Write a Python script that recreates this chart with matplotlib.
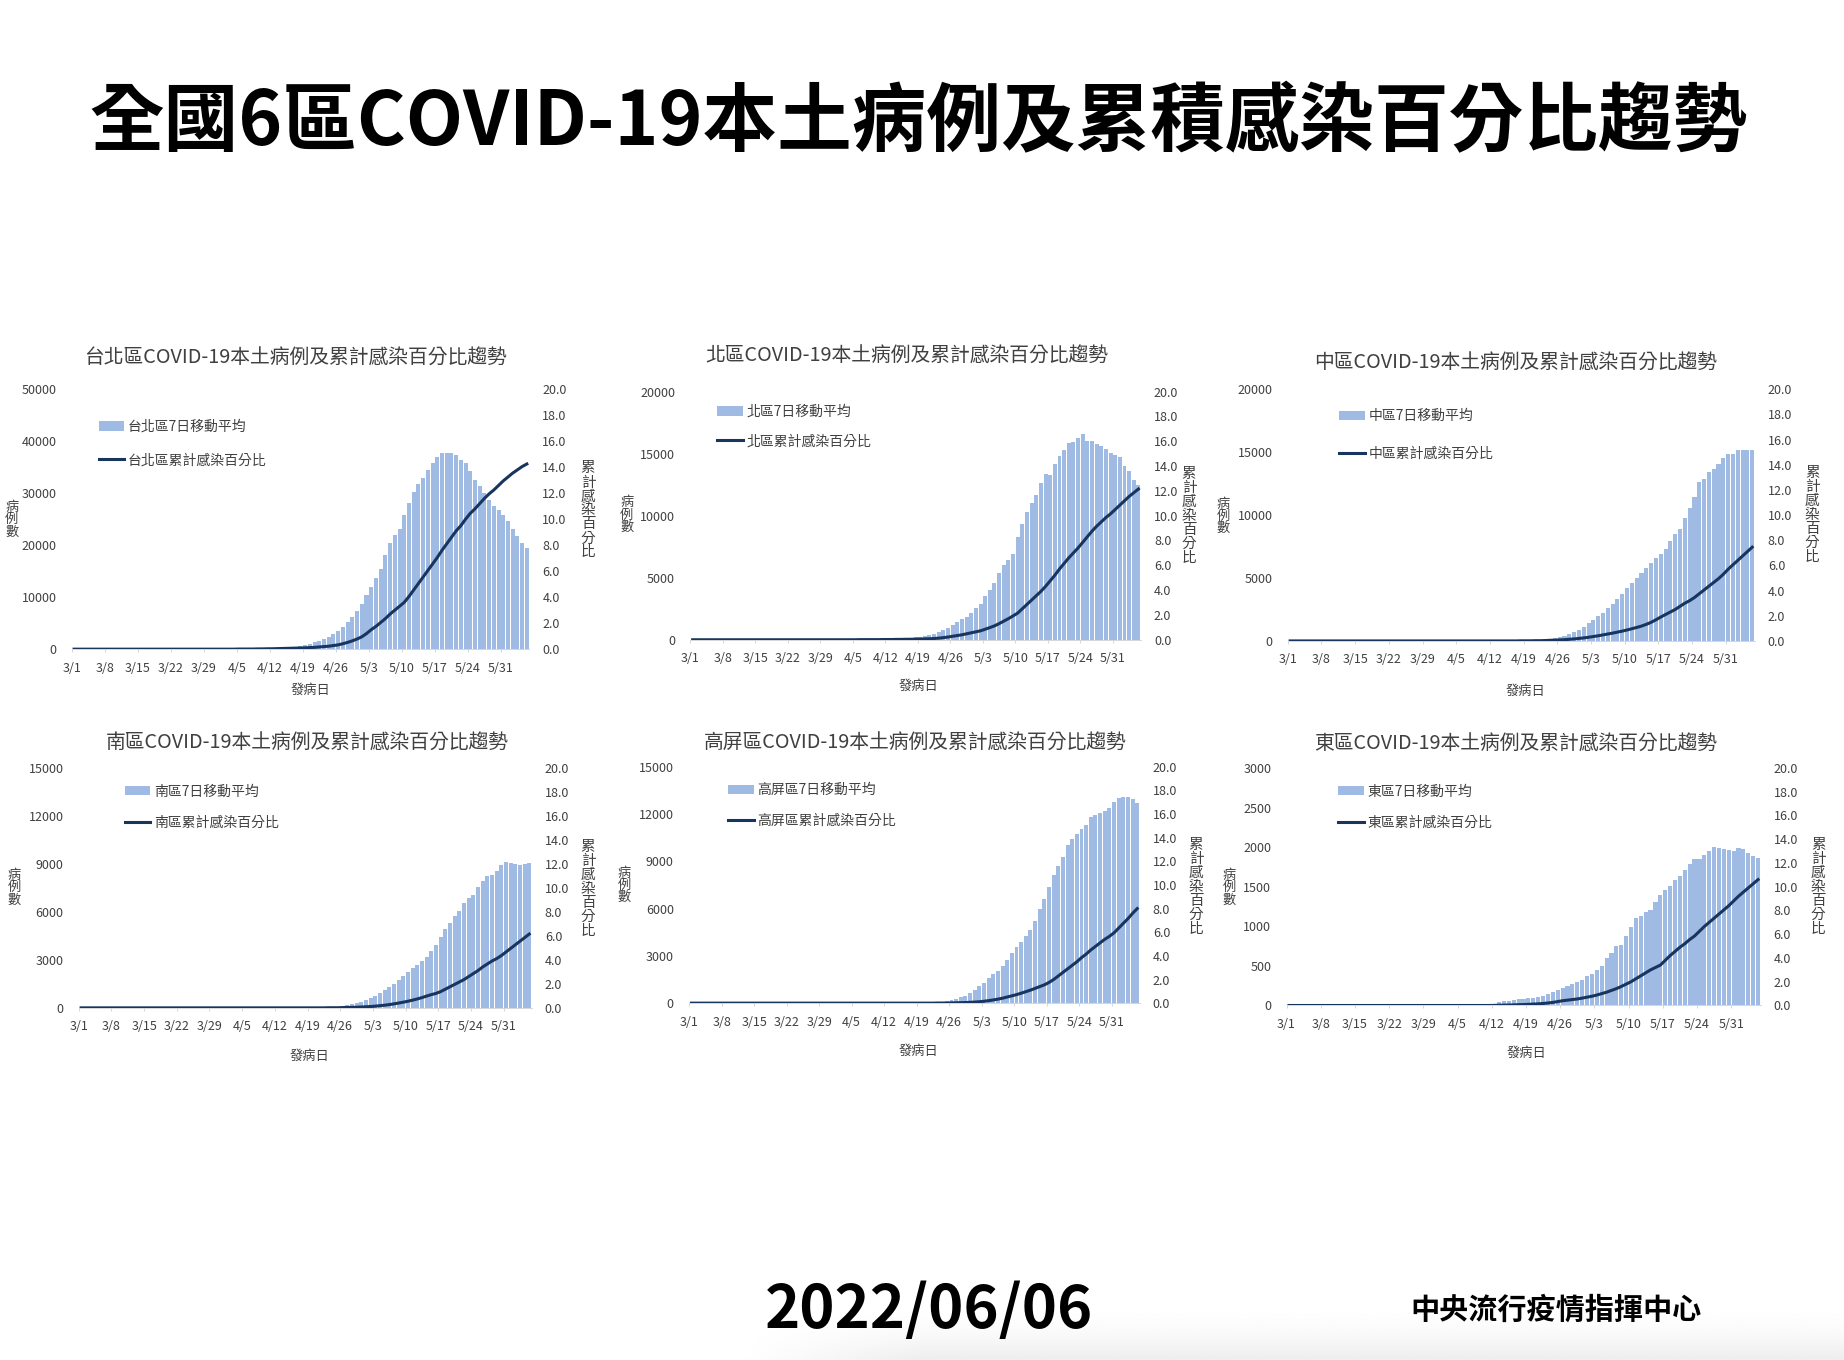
import numpy as np
import matplotlib
matplotlib.use("Agg")
import matplotlib.pyplot as plt

plt.rcParams['font.family'] = ['Noto Sans CJK TC', 'DejaVu Sans']

W, H = 1844, 1360
S = 1844 / 1568  # layout numbers below were measured on a 1568 wide copy

tick_labels = ["3/1", "3/8", "3/15", "3/22", "3/29", "4/5", "4/12", "4/19",
               "4/26", "5/3", "5/10", "5/17", "5/24", "5/31"]
regions = ["台北區", "北區", "中區", "南區", "高屏區", "東區"]

# daily values, one row per week from 3/1, last row ends 6/5
taipei_cases = [
  0, 0, 0, 0, 0, 0, 0,
  0, 0, 0, 0, 0, 0, 0,
  1, 1, 1, 1, 1, 1, 1,
  2, 2, 2, 2, 3, 3, 3,
  4, 4, 5, 5, 6, 7, 8,
  10, 13, 17, 22, 30, 45, 65,
  95, 125, 170, 230, 310, 420, 560,
  750, 1000, 1300, 1650, 2000, 2400, 2900,
  3500, 4300, 5250, 6200, 7400, 8650, 10400,
  12000, 13650, 15500, 18100, 20500, 22000, 23100,
  25800, 28200, 30300, 31700, 33000, 34500, 35800,
  36900, 37700, 37700, 37800, 37400, 36400, 35800,
  34200, 32600, 31400, 30000, 28700, 27600, 26800,
  25800, 24700, 23100, 21800, 20400, 19400]
taipei_pct = [
  0, 0, 0, 0, 0, 0, 0,
  0, 0, 0, 0, 0, 0, 0,
  0, 0, 0, 0, 0, 0, 0,
  0, 0, 0, 0, 0, 0, 0,
  0, 0, 0, 0, 0, 0, 0,
  0.01, 0.01, 0.01, 0.01, 0.02, 0.02, 0.03,
  0.03, 0.04, 0.05, 0.06, 0.07, 0.08, 0.09,
  0.1, 0.12, 0.14, 0.17, 0.2, 0.23, 0.28,
  0.33, 0.42, 0.52, 0.64, 0.78, 0.95, 1.2,
  1.5, 1.75, 2.05, 2.35, 2.7, 3.0, 3.3,
  3.6, 4.05, 4.55, 5.05, 5.55, 6.05, 6.55,
  7.05, 7.6, 8.1, 8.6, 9.1, 9.5, 10.0,
  10.45, 10.8, 11.2, 11.6, 11.95, 12.25, 12.6,
  12.95, 13.25, 13.55, 13.8, 14.05, 14.25]

north_cases = [
  0, 0, 0, 0, 0, 0, 0,
  0, 0, 0, 0, 0, 0, 0,
  0, 0, 0, 0, 1, 1, 1,
  1, 1, 2, 2, 2, 2, 3,
  3, 4, 5, 6, 8, 10, 12,
  15, 20, 25, 30, 35, 40, 45,
  50, 55, 65, 80, 110, 150, 200,
  260, 300, 370, 470, 600, 750, 950,
  1150, 1400, 1650, 1800, 2150, 2550, 2900,
  3500, 4000, 4550, 5400, 6000, 6400, 6950,
  8300, 9350, 10300, 11000, 11700, 12600, 13400,
  13300, 14150, 14850, 15300, 15850, 15900, 16300,
  16600, 16000, 16000, 15800, 15600, 15400, 15050,
  14900, 14700, 14000, 13600, 12900, 12500]
north_pct = [
  0, 0, 0, 0, 0, 0, 0,
  0, 0, 0, 0, 0, 0, 0,
  0, 0, 0, 0, 0, 0, 0,
  0, 0, 0, 0, 0, 0, 0,
  0, 0, 0, 0, 0, 0, 0,
  0, 0.01, 0.01, 0.01, 0.01, 0.01, 0.02,
  0.02, 0.02, 0.03, 0.03, 0.04, 0.04, 0.05,
  0.06, 0.07, 0.08, 0.1, 0.13, 0.17, 0.22,
  0.28, 0.34, 0.4, 0.48, 0.56, 0.64, 0.72,
  0.85, 0.98, 1.12, 1.3, 1.5, 1.7, 1.92,
  2.15, 2.5, 2.85, 3.2, 3.55, 3.9, 4.3,
  4.75, 5.2, 5.7, 6.15, 6.6, 7.0, 7.4,
  7.85, 8.3, 8.75, 9.15, 9.5, 9.85, 10.15,
  10.5, 10.85, 11.2, 11.55, 11.85, 12.15]

central_cases = [
  0, 0, 0, 0, 0, 0, 0,
  0, 0, 0, 0, 0, 0, 0,
  0, 0, 0, 0, 0, 0, 0,
  1, 1, 1, 1, 1, 1, 1,
  2, 2, 2, 2, 3, 3, 3,
  4, 4, 5, 5, 6, 6, 7,
  8, 10, 12, 15, 18, 22, 28,
  35, 45, 60, 80, 110, 150, 210,
  290, 420, 560, 690, 870, 1140, 1400,
  1670, 1990, 2250, 2600, 2940, 3310, 3700,
  4180, 4580, 4980, 5370, 5770, 6170, 6570,
  6900, 7280, 7970, 8480, 8870, 9750, 10600,
  11450, 12650, 12900, 13400, 13700, 14100, 14500,
  14850, 14850, 15200, 15200, 15200, 15200]
central_pct = [
  0, 0, 0, 0, 0, 0, 0,
  0, 0, 0, 0, 0, 0, 0,
  0, 0, 0, 0, 0, 0, 0,
  0, 0, 0, 0, 0, 0, 0,
  0, 0, 0, 0, 0, 0, 0,
  0, 0, 0, 0, 0, 0, 0,
  0, 0, 0, 0, 0, 0, 0.01,
  0.01, 0.01, 0.02, 0.02, 0.03, 0.05, 0.06,
  0.08, 0.1, 0.13, 0.16, 0.2, 0.24, 0.29,
  0.35, 0.41, 0.48, 0.55, 0.62, 0.7, 0.78,
  0.87, 0.97, 1.07, 1.18, 1.32, 1.48, 1.68,
  1.9, 2.1, 2.3, 2.5, 2.75, 3.0, 3.2,
  3.45, 3.75, 4.05, 4.35, 4.65, 4.95, 5.3,
  5.7, 6.05, 6.4, 6.75, 7.1, 7.45]

south_cases = [
  0, 0, 0, 0, 0, 0, 0,
  0, 0, 0, 0, 0, 0, 0,
  0, 0, 0, 0, 0, 0, 0,
  0, 0, 0, 0, 0, 0, 0,
  0, 0, 1, 1, 1, 1, 1,
  1, 1, 1, 2, 2, 2, 2,
  3, 3, 4, 4, 5, 6, 7,
  8, 10, 15, 25, 40, 55, 80,
  105, 150, 210, 290, 350, 460, 600,
  750, 920, 1125, 1290, 1500, 1750, 1980,
  2230, 2500, 2710, 2960, 3210, 3540, 3960,
  4460, 4900, 5310, 5730, 6040, 6540, 6850,
  7080, 7580, 7960, 8270, 8310, 8580, 8940,
  9150, 9040, 9000, 8960, 9020, 9040]
south_pct = [
  0, 0, 0, 0, 0, 0, 0,
  0, 0, 0, 0, 0, 0, 0,
  0, 0, 0, 0, 0, 0, 0,
  0, 0, 0, 0, 0, 0, 0,
  0, 0, 0, 0, 0, 0, 0,
  0, 0, 0, 0, 0, 0, 0,
  0, 0, 0, 0, 0, 0, 0,
  0, 0, 0, 0, 0.01, 0.01, 0.01,
  0.02, 0.03, 0.04, 0.05, 0.07, 0.09, 0.11,
  0.14, 0.18, 0.22, 0.27, 0.33, 0.4, 0.47,
  0.55, 0.64, 0.74, 0.85, 0.98, 1.1, 1.2,
  1.35, 1.55, 1.75, 1.95, 2.15, 2.35, 2.6,
  2.85, 3.1, 3.4, 3.65, 3.9, 4.1, 4.35,
  4.65, 4.95, 5.25, 5.55, 5.85, 6.15]

kaoping_cases = [
  0, 0, 0, 0, 0, 0, 0,
  0, 0, 0, 0, 0, 0, 0,
  0, 0, 0, 0, 0, 0, 0,
  0, 0, 0, 0, 0, 0, 0,
  0, 0, 0, 1, 1, 1, 1,
  1, 1, 1, 2, 2, 2, 2,
  3, 3, 4, 4, 5, 6, 8,
  10, 15, 25, 35, 50, 70, 105,
  170, 255, 360, 465, 635, 845, 1060,
  1270, 1585, 1860, 2070, 2370, 2750, 3170,
  3550, 3870, 4230, 4610, 5240, 5960, 6600,
  7400, 8120, 8710, 9260, 10040, 10440, 10720,
  11030, 11300, 11800, 11940, 12050, 12200, 12400,
  12770, 13000, 13100, 13060, 12940, 12680]
kaoping_pct = [
  0, 0, 0, 0, 0, 0, 0,
  0, 0, 0, 0, 0, 0, 0,
  0, 0, 0, 0, 0, 0, 0,
  0, 0, 0, 0, 0, 0, 0,
  0, 0, 0, 0, 0, 0, 0,
  0, 0, 0, 0, 0, 0, 0,
  0, 0, 0, 0, 0, 0, 0,
  0, 0, 0, 0, 0.01, 0.01, 0.01,
  0.02, 0.03, 0.04, 0.05, 0.07, 0.09, 0.12,
  0.16, 0.21, 0.27, 0.34, 0.42, 0.52, 0.62,
  0.72, 0.84, 0.97, 1.1, 1.25, 1.4, 1.55,
  1.75, 2.0, 2.3, 2.6, 2.9, 3.2, 3.5,
  3.85, 4.15, 4.5, 4.8, 5.1, 5.4, 5.65,
  5.95, 6.35, 6.75, 7.15, 7.6, 8.0]

east_cases = [
  0, 0, 0, 0, 0, 0, 0,
  0, 0, 0, 0, 0, 0, 0,
  0, 0, 0, 0, 0, 0, 0,
  0, 0, 0, 0, 0, 0, 0,
  0, 0, 0, 0, 1, 1, 1,
  2, 2, 3, 4, 6, 8, 12,
  21, 38, 55, 63, 72, 80, 88,
  93, 97, 105, 122, 139, 169, 198,
  223, 249, 274, 295, 324, 371, 400,
  451, 493, 598, 666, 746, 767, 877,
  990, 1108, 1125, 1180, 1201, 1311, 1391,
  1454, 1509, 1580, 1635, 1715, 1783, 1854,
  1854, 1905, 1947, 2002, 1989, 1972, 1960,
  1951, 1985, 1972, 1926, 1884, 1862]
east_pct = [
  0, 0, 0, 0, 0, 0, 0,
  0, 0, 0, 0, 0, 0, 0,
  0, 0, 0, 0, 0, 0, 0,
  0, 0, 0, 0, 0, 0, 0,
  0, 0, 0, 0, 0, 0, 0,
  0, 0, 0, 0, 0, 0, 0,
  0.01, 0.02, 0.03, 0.04, 0.05, 0.07, 0.08,
  0.1, 0.12, 0.14, 0.17, 0.21, 0.26, 0.33,
  0.4, 0.45, 0.5, 0.55, 0.62, 0.7, 0.78,
  0.88, 1.0, 1.12, 1.27, 1.42, 1.6, 1.8,
  2.0, 2.25, 2.5, 2.75, 3.0, 3.2, 3.4,
  3.8, 4.2, 4.55, 4.9, 5.2, 5.55, 5.85,
  6.25, 6.65, 7.0, 7.35, 7.7, 8.05, 8.4,
  8.8, 9.2, 9.55, 9.9, 10.25, 10.6]

all_cases = [taipei_cases, north_cases, central_cases, south_cases, kaoping_cases, east_cases]
all_pct = [taipei_pct, north_pct, central_pct, south_pct, kaoping_pct, east_pct]
left_ticks = [[0, 10000, 20000, 30000, 40000, 50000],
              [0, 5000, 10000, 15000, 20000],
              [0, 5000, 10000, 15000, 20000],
              [0, 3000, 6000, 9000, 12000, 15000],
              [0, 3000, 6000, 9000, 12000, 15000],
              [0, 500, 1000, 1500, 2000, 2500, 3000]]
right_ticks = [0, 2, 4, 6, 8, 10, 12, 14, 16, 18, 20]

# plot box: x left, x right, y zero, y top
boxes = [(61, 450, 552, 331), (587, 970, 544, 333), (1095, 1492, 545, 331),
         (67, 452, 857, 653), (586, 969, 853, 652), (1094, 1497, 855, 653)]
title_pos = [(251, 305), (771, 303), (1289, 309), (261, 632), (778, 632), (1289, 633)]
xlabel_pos = [(264, 587), (781, 584), (1297, 588), (263, 898), (781, 894), (1298, 896)]
ylabel_pos = [(10, 442), (533, 438), (1040, 439), (12, 755), (531, 753), (1045, 755)]
rlabel_pos = [(500, 434), (1011, 439), (1541, 438), (500, 756), (1017, 754), (1546, 754)]
# legend: handle left, first row y, second row y
legend_pos = [(84, 364, 392), (610, 351, 376), (1139, 355, 387),
              (106, 674, 700), (619, 673, 699), (1138, 674, 700)]

BAR = '#9FBAE3'
LINE = '#17355F'
GREY = '#404040'


def fx(x):
  return x * S / W


def fy(y):
  return 1 - y * S / H


fig = plt.figure(figsize=(W / 100, H / 100), dpi=100, facecolor='white')

# soft shadow at the bottom right of the slide
shade = fig.add_axes([0.4, 0, 0.6, 0.045], zorder=0)
ramp_x = np.clip(np.linspace(0, 6, 200), 0, 1)
ramp_y = np.linspace(0, 1, 40) ** 2
shade.imshow(1 - 0.07 * np.outer(ramp_y, ramp_x), cmap='gray', vmin=0, vmax=1, aspect='auto')
shade.axis('off')

fig.text(fx(781), fy(105), "全國6區COVID-19本土病例及累積感染百分比趨勢", fontsize=53.7,
         fontweight='bold', color='black', ha='center', va='center')
fig.text(fx(790), fy(1115), "2022/06/06", fontsize=43, fontweight='bold',
         color='black', ha='center', va='center')
fig.text(fx(1323), fy(1114), "中央流行疫情指揮中心", fontsize=21, fontweight='bold',
         color='black', ha='center', va='center')

for i in range(6):
  x0, x1, y0, y1 = boxes[i]
  ax = fig.add_axes([fx(x0), fy(y0), fx(x1) - fx(x0), fy(y1) - fy(y0)], zorder=2)
  ax.patch.set_alpha(0)
  days = np.arange(len(all_cases[i]))
  bars = ax.bar(days, all_cases[i], width=0.85, color=BAR, label=regions[i] + "7日移動平均")
  ax.set_xlim(-0.5, 96.5)
  ax.set_ylim(0, left_ticks[i][-1])
  ax.set_yticks(left_ticks[i])
  ax.set_xticks(np.arange(0, 92, 7) - 0.5)
  ax.set_xticklabels(tick_labels)
  ax.tick_params(axis='y', length=0, pad=11, labelsize=9, labelcolor=GREY)
  ax.tick_params(axis='x', length=2, width=0.6, color='#D0D0D0', pad=7, labelsize=9, labelcolor=GREY)
  for side in ['top', 'left', 'right']:
    ax.spines[side].set_visible(False)
  ax.spines['bottom'].set_color('#D0D0D0')
  ax.spines['bottom'].set_linewidth(0.6)

  ax2 = ax.twinx()
  ax2.patch.set_alpha(0)
  line, = ax2.plot(days, all_pct[i], color=LINE, lw=2.2, label=regions[i] + "累計感染百分比")
  ax2.set_ylim(0, 20)
  ax2.set_yticks(right_ticks)
  ax2.set_yticklabels(["%.1f" % t for t in right_ticks])
  ax2.tick_params(axis='y', length=0, pad=9.5, labelsize=9, labelcolor=GREY)
  for side in ['top', 'left', 'right', 'bottom']:
    ax2.spines[side].set_visible(False)

  fig.text(fx(title_pos[i][0]), fy(title_pos[i][1]), regions[i] + "COVID-19本土病例及累計感染百分比趨勢",
           fontsize=14.25, color=GREY, ha='center', va='center')
  fig.text(fx(xlabel_pos[i][0]), fy(xlabel_pos[i][1]), "發病日", fontsize=9.5,
           color=GREY, ha='center', va='center')
  fig.text(fx(ylabel_pos[i][0]), fy(ylabel_pos[i][1]), "病\n例\n數", fontsize=9.5,
           color=GREY, ha='center', va='center', linespacing=0.92)
  fig.text(fx(rlabel_pos[i][0]), fy(rlabel_pos[i][1]), "累\n計\n感\n染\n百\n分\n比", fontsize=10.5,
           color=GREY, ha='center', va='center', linespacing=1.0)

  lx, ly1, ly2 = legend_pos[i]
  gap = (ly2 - ly1) * S * 72 / 100 / 10  # row distance in font sizes
  ax2.legend([bars, line], [bars.get_label(), line.get_label()], loc='upper left',
             bbox_to_anchor=(fx(lx), fy(ly1 - 7)), bbox_transform=fig.transFigure,
             frameon=False, fontsize=10, labelcolor=GREY, borderpad=0, borderaxespad=0,
             handlelength=1.85, handletextpad=0.25, labelspacing=gap - 0.98)

fig.savefig("out.png", dpi=100)
